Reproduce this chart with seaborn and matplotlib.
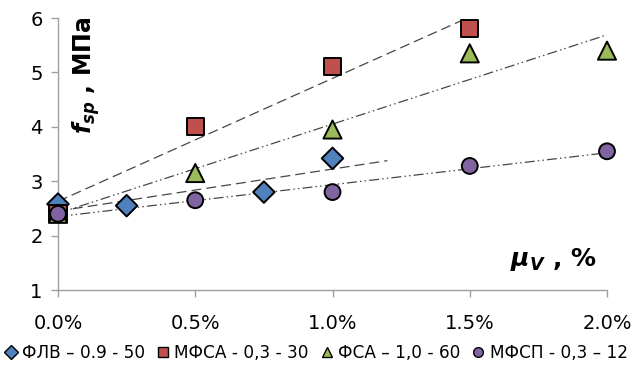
import numpy as np
import pandas as pd
import matplotlib
matplotlib.use('Agg')
import matplotlib.pyplot as plt
from matplotlib.lines import Line2D
import seaborn as sns

# fibre volume fraction, %  and splitting tensile strength, MPa
series_names = ['ФЛВ – 0.9 - 50', 'МФСА - 0,3 - 30', 'ФСА – 1,0 - 60', 'МФСП - 0,3 – 12']
flv_x = [0.0, 0.25, 0.75, 1.0]
flv_y = [2.58, 2.55, 2.80, 3.42]
mfsa_x = [0.0, 0.5, 1.0, 1.5]
mfsa_y = [2.40, 4.00, 5.10, 5.80]
fsa_x = [0.0, 0.5, 1.0, 1.5, 2.0]
fsa_y = [2.40, 3.15, 3.95, 5.35, 5.40]
mfsp_x = [0.0, 0.5, 1.0, 1.5, 2.0]
mfsp_y = [2.40, 2.65, 2.80, 3.28, 3.55]
trend_end = [1.2, 1.5, 2.0, 2.0]   # how far each linear trendline is drawn
x_ticks = [0.0, 0.5, 1.0, 1.5, 2.0]
y_ticks = [1, 2, 3, 4, 5, 6]

colors = ['#4F81BD', '#C0504D', '#9BBB59', '#8064A2']
markers = ['D', 's', '^', 'o']
sizes = [120, 150, 170, 130]
dash_styles = [(8, 4), (8, 4), (8, 2.5, 1.2, 2.5, 1.2, 2.5), (8, 2.5, 1.2, 2.5, 1.2, 2.5)]

xs = [flv_x, mfsa_x, fsa_x, mfsp_x]
ys = [flv_y, mfsa_y, fsa_y, mfsp_y]
df = pd.concat([pd.DataFrame({'mu': x, 'f': y, 'series': n})
                for x, y, n in zip(xs, ys, series_names)], ignore_index=True)

sns.set_style('white')
plt.rcParams['font.family'] = ['DejaVu Sans']
plt.rcParams['text.color'] = 'black'
plt.rcParams['mathtext.fontset'] = 'custom'
plt.rcParams['mathtext.it'] = 'DejaVu Sans:italic:bold'
plt.rcParams['mathtext.rm'] = 'DejaVu Sans:bold'
plt.rcParams['mathtext.bf'] = 'DejaVu Sans:bold'

fig = plt.figure(figsize=(6.42, 3.66), dpi=100)
ax = fig.add_axes([58 / 642, 1 - 290 / 366, 549 / 642, 272 / 366])

# linear trendlines (Excel style)
for x, y, end, ds in zip(xs, ys, trend_end, dash_styles):
    k, b = np.polyfit(x, y, 1)
    tx = np.array([0.0, end])
    ax.plot(tx, k * tx + b, color='#474747', lw=0.9, dashes=ds, zorder=1)

sns.scatterplot(data=df, x='mu', y='f', hue='series', style='series', size='series',
                palette=dict(zip(series_names, colors)),
                markers=dict(zip(series_names, markers)),
                sizes=dict(zip(series_names, sizes)),
                edgecolor='black', linewidth=1.4, legend=False, ax=ax, zorder=3, clip_on=False)

ax.set_xlim(0, 2.0)
ax.set_ylim(1, 6)
ax.set_xticks(x_ticks)
ax.set_xticklabels([f'{t:.1f}%' for t in x_ticks])
ax.set_yticks(y_ticks)
ax.tick_params(axis='both', labelsize=14, length=5, width=1, color='#a0a0a0',
               labelcolor='black', direction='out', bottom=True, left=True, pad=6)
ax.tick_params(axis='x', pad=12)
for s in ['top', 'right']:
    ax.spines[s].set_visible(False)
for s in ['left', 'bottom']:
    ax.spines[s].set_color('#a0a0a0')
    ax.spines[s].set_linewidth(1)
ax.set_xlabel('')
ax.set_ylabel('')

ax.text(0.045, 6.03, r'$f_{sp}$ , МПа', rotation=90, ha='left', va='top',
        fontsize=17, fontweight='bold')
ax.text(1.96, 1.45, r'$\mu_V$ , %', ha='right', va='baseline',
        fontsize=18, fontweight='bold')

handles = [Line2D([], [], marker=m, color='none', markerfacecolor=c,
                  markeredgecolor='black', markeredgewidth=1.0, markersize=7)
           for m, c in zip(markers, colors)]
fig.legend(handles, series_names, loc='lower left', bbox_to_anchor=(0.008, 0.012),
           ncol=4, frameon=False, fontsize=12.2, handlelength=0.7,
           handletextpad=0.3, columnspacing=0.72, borderaxespad=0, borderpad=0)

fig.savefig('out.png', dpi=100)
